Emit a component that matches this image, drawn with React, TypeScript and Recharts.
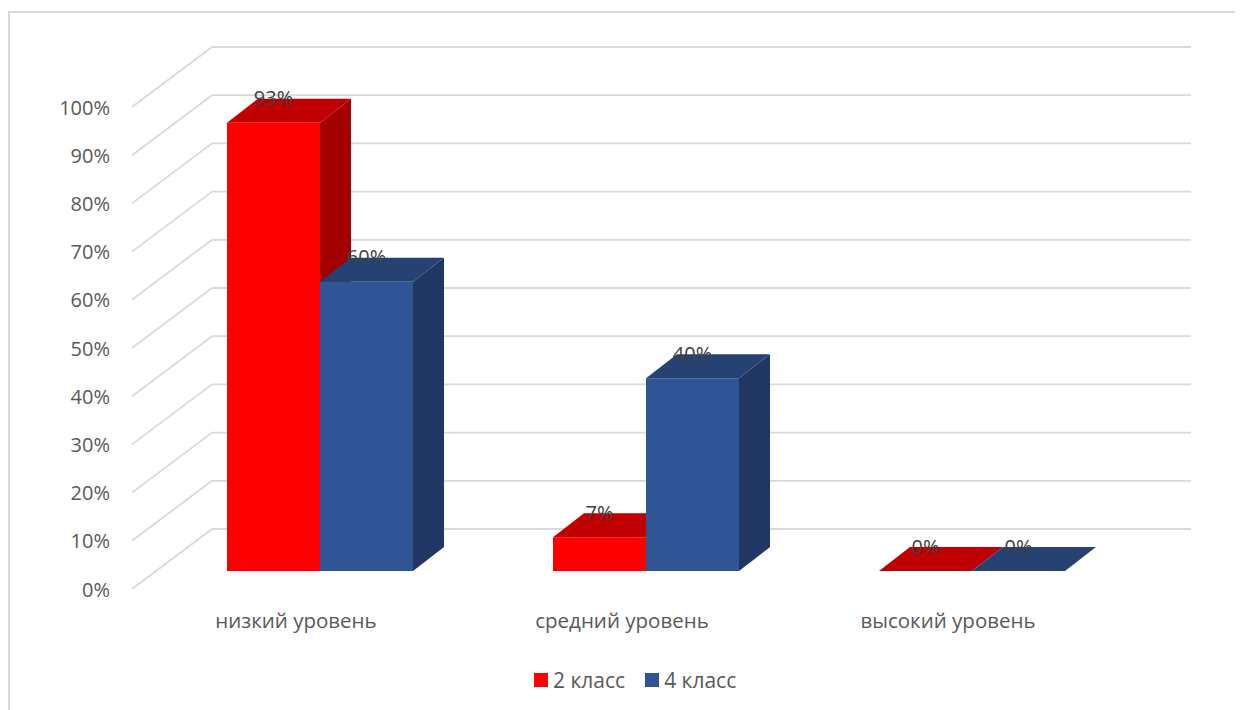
import { BarChart, Bar, XAxis, YAxis, CartesianGrid, Legend, LabelList } from 'recharts';

const categories = ['низкий уровень', 'средний уровень', 'высокий уровень'];
const grade2 = [0.93, 0.07, 0];
const grade4 = [0.6, 0.4, 0];
const yTicks = [0, 0.1, 0.2, 0.3, 0.4, 0.5, 0.6, 0.7, 0.8, 0.9, 1];
const seriesNames = ['2 класс', '4 класс'];

const data = categories.map((name, i) => ({ name, g2: grade2[i], g4: grade4[i] }));

// layout (chart coordinates)
const W = 1235;
const H = 702;
const PLOT_LEFT = 149;
const PLOT_BOTTOM = 563;
const DEPTH_X = 31;
const DEPTH_Y = 24;
const FONT = '"Open Sans", sans-serif';
const GRID = '#d9d9d9';

const colors = {
  g2: { front: '#ff0000', top: '#c00000', side: '#a50000' },
  g4: { front: '#2f5597', top: '#254272', side: '#203763' },
};

const makeShape = (c: { front: string; top: string; side: string }) => (props: any) => {
  const x = Number(props.x);
  const y = Number(props.y);
  const w = Number(props.width);
  const h = Math.max(0, Number(props.height));
  return (
    <g>
      {h > 0 && (
        <polygon
          points={`${x + w},${y} ${x + w + DEPTH_X},${y - DEPTH_Y} ${x + w + DEPTH_X},${y + h - DEPTH_Y} ${x + w},${y + h}`}
          fill={c.side}
        />
      )}
      <polygon
        points={`${x},${y} ${x + w},${y} ${x + w + DEPTH_X},${y - DEPTH_Y} ${x + DEPTH_X},${y - DEPTH_Y}`}
        fill={c.top}
      />
      {h > 0 && <rect x={x} y={y} width={w} height={h} fill={c.front} />}
    </g>
  );
};

const pctLabel = (props: any) => {
  const x = Number(props.x) + Number(props.width) / 2;
  const y = Number(props.y) - 25;
  return (
    <text x={x} y={y} textAnchor="middle" dominantBaseline="central" fontSize={20} fontFamily={FONT} fill="#404040">
      {`${Math.round(Number(props.value) * 100)}%`}
    </text>
  );
};

const gridLine = (p: any) => {
  const x1 = Number(p.x1);
  const x2 = Number(p.x2);
  const y = Number(p.y1);
  return (
    <g key={p.key ?? `g-${p.index}`}>
      <line x1={x1 - 25} y1={y + 18} x2={x1 + 55} y2={y - 42} stroke={GRID} strokeWidth={1.8} />
      <line x1={x1 + 55} y1={y - 42} x2={x2 + 56} y2={y - 42} stroke={GRID} strokeWidth={1.8} />
    </g>
  );
};

const YTick = (props: any) => (
  <text x={PLOT_LEFT - 47} y={Number(props.y) + 18} textAnchor="end" dominantBaseline="central" fontSize={20} fontFamily={FONT} fill="#595959">
    {`${Math.round(props.payload.value * 100)}%`}
  </text>
);

const XTick = (props: any) => (
  <text x={Number(props.x) - 24} y={PLOT_BOTTOM + 49} textAnchor="middle" dominantBaseline="central" fontSize={20.5} fontFamily={FONT} fill="#595959">
    {props.payload.value}
  </text>
);

const LegendContent = () => (
  <div style={{ display: 'flex', alignItems: 'center', fontFamily: FONT, fontSize: 21, color: '#595959', whiteSpace: 'nowrap' }}>
    {seriesNames.map((n, i) => (
      <div key={n} style={{ display: 'flex', alignItems: 'center', marginRight: i === 0 ? 20 : 0 }}>
        <span style={{ width: 14, height: 14, background: i === 0 ? colors.g2.front : colors.g4.front, marginRight: 5, display: 'inline-block' }} />
        <span>{n}</span>
      </div>
    ))}
  </div>
);

export default function App() {
  return (
    <div style={{ position: 'relative', width: W, height: H }}>
      <div
        style={{
          position: 'absolute',
          left: 0,
          top: 3,
          width: 1260,
          height: 720,
          borderLeft: `2px solid ${GRID}`,
          borderTop: `2px solid ${GRID}`,
        }}
      />
      <div style={{ position: 'absolute', left: 0, top: 0 }}>
        <BarChart
          width={W}
          height={H}
          data={data}
          margin={{ top: 81, right: 108, bottom: 109, left: 89 }}
          barSize={93}
          barGap={0}
        >
          <CartesianGrid vertical={false} horizontal={gridLine} />
          <XAxis dataKey="name" axisLine={false} tickLine={false} height={30} tick={<XTick />} interval={0} />
          <YAxis
            width={60}
            domain={[0, 1]}
            ticks={yTicks}
            axisLine={false}
            tickLine={false}
            tick={<YTick />}
            interval={0}
          />
          <Legend
            verticalAlign="middle"
            align="center"
            wrapperStyle={{ top: 658, left: 526, width: 'auto' }}
            content={<LegendContent />}
          />
          <Bar dataKey="g2" name={seriesNames[0]} shape={makeShape(colors.g2)} isAnimationActive={false}>
            <LabelList dataKey="g2" content={pctLabel} />
          </Bar>
          <Bar dataKey="g4" name={seriesNames[1]} shape={makeShape(colors.g4)} isAnimationActive={false}>
            <LabelList dataKey="g4" content={pctLabel} />
          </Bar>
        </BarChart>
      </div>
    </div>
  );
}
